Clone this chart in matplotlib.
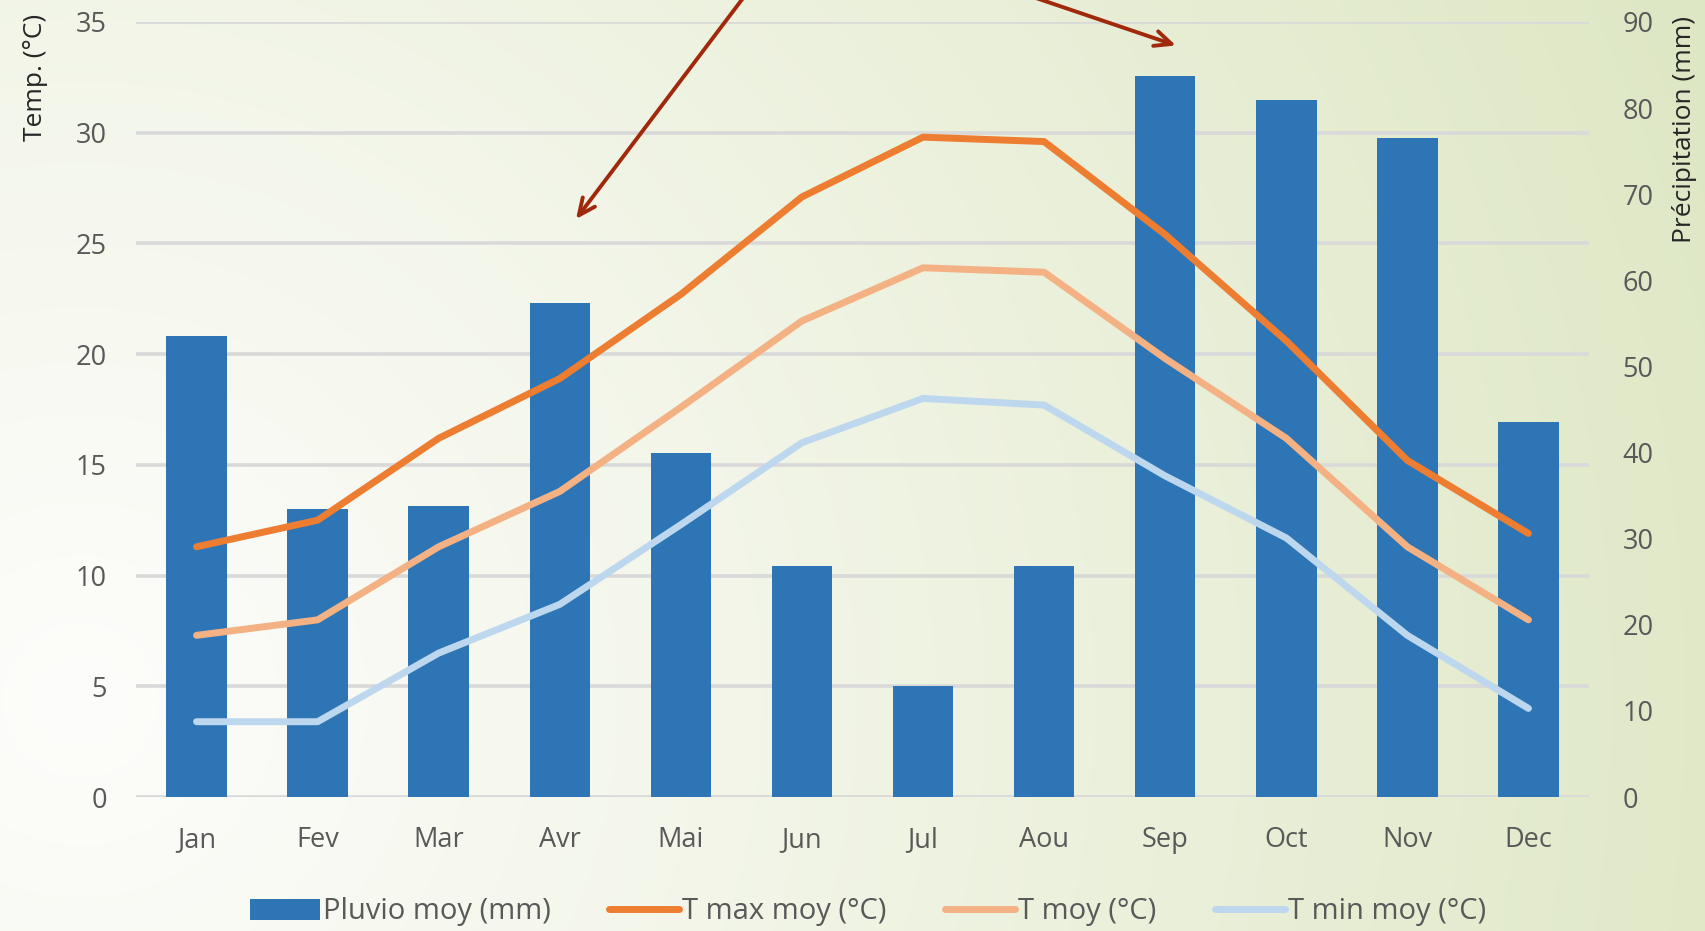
import numpy as np
import matplotlib
matplotlib.use("Agg")
import matplotlib.pyplot as plt
from matplotlib.colors import to_rgb
from matplotlib.lines import Line2D
from matplotlib.patches import Patch

# Monthly climate normals
months = ["Jan", "Fev", "Mar", "Avr", "Mai", "Jun", "Jul", "Aou", "Sep", "Oct", "Nov", "Dec"]
pluvio_mm = [53.5, 33.4, 33.8, 57.4, 39.9, 26.8, 12.9, 26.8, 83.7, 80.9, 76.5, 43.6]
t_max = [11.3, 12.5, 16.2, 18.9, 22.7, 27.1, 29.8, 29.6, 25.4, 20.6, 15.2, 11.9]
t_moy = [7.3, 8.0, 11.3, 13.8, 17.6, 21.5, 23.9, 23.7, 19.8, 16.2, 11.3, 8.0]
t_min = [3.4, 3.4, 6.5, 8.7, 12.3, 16.0, 18.0, 17.7, 14.5, 11.7, 7.3, 4.0]

temp_ticks = [0, 5, 10, 15, 20, 25, 30, 35]
pluvio_ticks = [0, 10, 20, 30, 40, 50, 60, 70, 80, 90]

C_BAR = "#2E75B6"
C_MAX = "#ED7D31"
C_MOY = "#F4B183"
C_MIN = "#BDD7EE"
C_GRID = "#D9D9D9"
C_TXT = "#595959"
C_ARROW = "#A0290C"

plt.rcParams["font.family"] = ["Open Sans", "DejaVu Sans"]

W, H = 1706, 931
fig = plt.figure(figsize=(W / 100, H / 100), dpi=100)

# soft radial background: white on the left, pale green toward the right
bg = fig.add_axes([0, 0, 1, 1], zorder=-10)
yy, xx = np.mgrid[0:H, 0:W]
d = np.hypot(xx - 80, yy - 700) / 1750.0
t = np.clip(d, 0, 1) ** 1.1
c0 = np.array(to_rgb("#FDFDFB"))
c1 = np.array(to_rgb("#DEE7C4"))
img = c0[None, None, :] * (1 - t[..., None]) + c1[None, None, :] * t[..., None]
bg.imshow(img, aspect="auto", extent=[0, 1, 0, 1], origin="upper")
bg.set_axis_off()

rect = [136 / W, 1 - 797 / H, (1589 - 136) / W, (797 - 22) / H]
x = np.arange(len(months))
TICK_FS = 19.5

# grid + left temperature scale
ax_g = fig.add_axes(rect, zorder=0)
ax_g.patch.set_visible(False)
ax_g.set_xlim(-0.5, len(months) - 0.5)
ax_g.set_ylim(0, 35)
ax_g.set_yticks(temp_ticks)
ax_g.yaxis.grid(True, color=C_GRID, linewidth=2.6)
ax_g.set_axisbelow(True)
ax_g.set_xticks(x)
ax_g.set_xticklabels(months)
ax_g.tick_params(axis="both", length=0, labelsize=TICK_FS, labelcolor=C_TXT)
ax_g.tick_params(axis="y", pad=21)
ax_g.tick_params(axis="x", pad=21)
for s in ax_g.spines.values():
    s.set_visible(False)
ax_g.set_ylabel("Temp. (°C)", fontsize=19, color="#262626", va="center", ha="center")
ax_g.yaxis.set_label_coords(-0.0695, 0.929)

# precipitation bars on the right scale
ax_p = fig.add_axes(rect, zorder=1, sharex=ax_g)
ax_p.patch.set_visible(False)
ax_p.bar(x, pluvio_mm, width=0.5, color=C_BAR, label="Pluvio moy (mm)")
ax_p.set_ylim(0, 90)
ax_p.set_yticks(pluvio_ticks)
ax_p.yaxis.tick_right()
ax_p.yaxis.set_label_position("right")
ax_p.tick_params(axis="y", length=0, labelsize=TICK_FS, labelcolor=C_TXT, pad=24)
ax_p.tick_params(axis="x", bottom=False, labelbottom=False)
for s in ax_p.spines.values():
    s.set_visible(False)
ax_p.set_ylabel("Précipitation (mm)", fontsize=19, color="#262626",
                rotation=90, va="center", ha="center")
ax_p.yaxis.set_label_coords(1.0654, 0.861)

# temperature curves
ax_t = fig.add_axes(rect, zorder=2, sharex=ax_g)
ax_t.patch.set_visible(False)
ax_t.set_ylim(0, 35)
lw = 5.0
ax_t.plot(x, t_min, color=C_MIN, lw=lw, solid_capstyle="round", solid_joinstyle="round")
ax_t.plot(x, t_moy, color=C_MOY, lw=lw, solid_capstyle="round", solid_joinstyle="round")
ax_t.plot(x, t_max, color=C_MAX, lw=lw, solid_capstyle="round", solid_joinstyle="round")
ax_t.set_axis_off()

# pointer arrows coming from above the plot
arrow_kw = dict(arrowstyle="->,head_length=1.2,head_width=0.55", color=C_ARROW, lw=2.8)
ax_t.annotate("", xy=(3.12, 26.0), xytext=(4.53, 36.2), arrowprops=arrow_kw,
              annotation_clip=False)
ax_t.annotate("", xy=(8.11, 33.9), xytext=(6.87, 36.2), arrowprops=arrow_kw,
              annotation_clip=False)

handles = [
    Patch(facecolor=C_BAR, edgecolor="none"),
    Line2D([0], [0], color=C_MAX, lw=lw, solid_capstyle="round"),
    Line2D([0], [0], color=C_MOY, lw=lw, solid_capstyle="round"),
    Line2D([0], [0], color=C_MIN, lw=lw, solid_capstyle="round"),
]
labels = ["Pluvio moy (mm)", "T max moy (°C)", "T moy (°C)", "T min moy (°C)"]
fig.legend(handles, labels, loc="center", bbox_to_anchor=(868 / W, 1 - 912 / H),
           ncol=4, frameon=False, fontsize=21, labelcolor=C_TXT,
           handlelength=2.4, handletextpad=0.1, columnspacing=2.0)

fig.savefig("out.png", dpi=100)
